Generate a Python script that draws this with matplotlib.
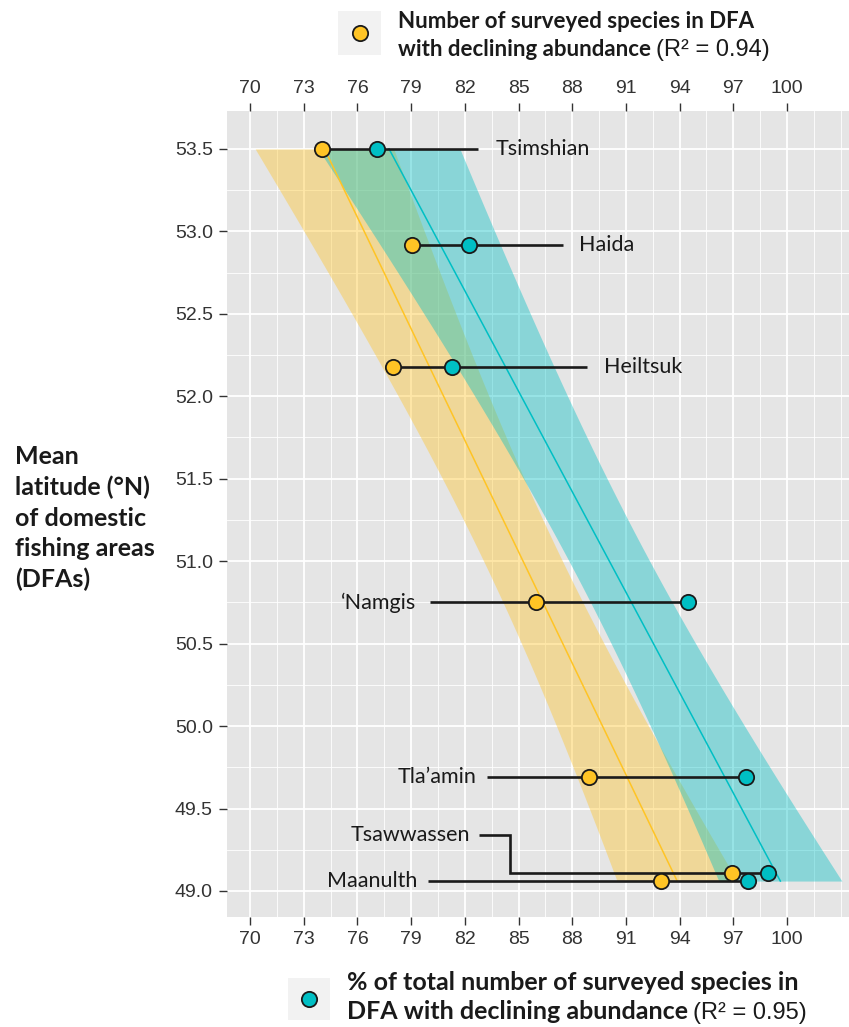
import numpy as np
import matplotlib
matplotlib.use("Agg")
import matplotlib.pyplot as plt
from matplotlib.patches import Rectangle
from matplotlib.lines import Line2D
from matplotlib.ticker import FixedLocator

# ---------------- data ----------------
groups = ["Tsimshian", "Haida", "Heiltsuk", "\u2018Namgis", "Tla\u2019amin", "Tsawwassen", "Maanulth"]
latitude = [53.50, 52.92, 52.18, 50.75, 49.69, 49.11, 49.06]
n_declining = [74.0, 79.03, 78.0, 85.96, 88.96, 96.94, 92.96]
pct_declining = [77.1, 82.25, 81.27, 94.45, 97.7, 98.92, 97.8]
x_ticks = [70, 73, 76, 79, 82, 85, 88, 91, 94, 97, 100]
y_ticks = [49.0, 49.5, 50.0, 50.5, 51.0, 51.5, 52.0, 52.5, 53.0, 53.5]
legend_top = ("Number of surveyed species in DFA", "with declining abundance", "(R\u00b2 = 0.94)")
legend_bottom = ("% of total number of surveyed species in", "DFA with declining abundance", "(R\u00b2 = 0.95)")
y_title = "Mean\nlatitude (\u00b0N)\nof domestic\nfishing areas\n(DFAs)"

# label layout (annotation placement): side, line end/start x, label x
label_layout = {
    "Tsimshian": ("right", 82.75, 83.7),
    "Haida": ("right", 87.5, 88.4),
    "Heiltsuk": ("right", 88.8, 89.8),
    "\u2018Namgis": ("left", 80.06, 79.3),
    "Tla\u2019amin": ("left", 83.24, 82.66),
    "Maanulth": ("left", 79.94, 79.36),
}
tsaw_elbow = (82.8, 84.5, 49.34, 82.3)  # start x, elbow x, label y, label x

YEL = "#FFC425"
TEAL = "#00BFC4"
BG = "#E5E5E5"
INK = "#1a1a1a"
T975_DF5 = 2.5706

LAB_FONT = "Lato"
TICK_FONT = "Liberation Sans"

W, H = 849, 1027
fig = plt.figure(figsize=(W / 100, H / 100), dpi=100)
ax = fig.add_axes([226.7 / W, 1 - 917 / H, (W - 226.7) / W, (917 - 111) / H])
ax.set_facecolor(BG)
ax.set_xlim(68.70, 103.46)
ax.set_ylim(48.842, 53.730)

lat = np.array(latitude)


def fit_band(vals):
    v = np.array(vals)
    b, a = np.polyfit(lat, v, 1)
    yy = np.linspace(lat.min(), lat.max(), 80)
    pred = a + b * yy
    res = v - (a + b * lat)
    s = np.sqrt(np.sum(res ** 2) / (len(v) - 2))
    sxx = np.sum((lat - lat.mean()) ** 2)
    se = s * np.sqrt(1 / len(v) + (yy - lat.mean()) ** 2 / sxx)
    return yy, pred, pred - T975_DF5 * se, pred + T975_DF5 * se


yy1, p1, lo1, hi1 = fit_band(n_declining)
yy2, p2, lo2, hi2 = fit_band(pct_declining)
ax.fill_betweenx(yy1, lo1, hi1, color=YEL, alpha=0.4, lw=0, zorder=2)
ax.fill_betweenx(yy2, lo2, hi2, color=TEAL, alpha=0.4, lw=0, zorder=2)
ax.plot(p1, yy1, color=YEL, lw=1.1, zorder=3)
ax.plot(p2, yy2, color=TEAL, lw=1.1, zorder=3)

# segments + labels
seg_lw = 1.9
lab_fs = 15.5
for g, la, v1, v2 in zip(groups, latitude, n_declining, pct_declining):
    if g in label_layout:
        side, lx, tx = label_layout[g]
        if side == "right":
            ax.plot([v1, lx], [la, la], color=INK, lw=seg_lw, zorder=4, solid_capstyle="butt")
            ax.text(tx, la, g, ha="left", va="center", fontsize=lab_fs, family=LAB_FONT, color=INK, zorder=6)
        else:
            ax.plot([lx, max(v1, v2)], [la, la], color=INK, lw=seg_lw, zorder=4, solid_capstyle="butt")
            ax.text(tx, la, g, ha="right", va="center", fontsize=lab_fs, family=LAB_FONT, color=INK, zorder=6)
    else:
        sx, ex, ly, tx = tsaw_elbow
        ax.plot([sx, ex, ex, max(v1, v2)], [ly, ly, la, la], color=INK, lw=seg_lw, zorder=4,
                solid_capstyle="butt", solid_joinstyle="miter")
        ax.text(tx, ly, g, ha="right", va="center", fontsize=lab_fs, family=LAB_FONT, color=INK, zorder=6)

mk = dict(marker="o", ms=11, mec=INK, mew=1.3, ls="none", zorder=5)
ax.plot(n_declining, latitude, mfc=YEL, **mk)
ax.plot(pct_declining, latitude, mfc=TEAL, **mk)

# axes styling
for sp in ax.spines.values():
    sp.set_visible(False)
ax.set_xticks(x_ticks)
ax.set_yticks(y_ticks)
ax.set_yticklabels([f"{t:.1f}" for t in y_ticks])
ax.xaxis.set_minor_locator(FixedLocator([t + 1.5 for t in x_ticks] + [103]))
ax.yaxis.set_minor_locator(FixedLocator([t + 0.25 for t in y_ticks[:-1]]))
ax.grid(which="major", color="white", lw=1.3)
ax.grid(which="minor", color="white", lw=0.6)
ax.set_axisbelow(True)
ax.xaxis.set_ticks_position("both")
ax.tick_params(axis="x", which="major", top=True, bottom=True, labeltop=True, labelbottom=True)
ax.tick_params(which="major", length=5.5, width=1.0, color="#333333", labelcolor="#333333",
               labelsize=14, pad=4.5)
ax.tick_params(which="minor", length=0)
for t in ax.xaxis.get_major_ticks() + ax.yaxis.get_major_ticks():
    t.label1.set_family(TICK_FONT)
    t.label2.set_family(TICK_FONT)

# y title
fig.text(15 / W, 1 - 518 / H, y_title, ha="left", va="center", fontsize=18, weight="bold",
         family=LAB_FONT, color=INK, linespacing=1.38)

# legends
renderer = fig.canvas.get_renderer()


def legend_block(box, pt, x0, base1, base2, lines, color, fs, rfs):
    bx0, by0, bx1, by1 = box
    fig.patches.append(Rectangle((bx0 / W, 1 - by1 / H), (bx1 - bx0) / W, (by1 - by0) / H,
                                 transform=fig.transFigure, facecolor="#F2F2F2", edgecolor="none"))
    fig.lines.append(Line2D([pt[0] / W], [1 - pt[1] / H], transform=fig.transFigure, marker="o",
                            ms=11, mfc=color, mec=INK, mew=1.3))
    fig.text(x0 / W, 1 - base1 / H, lines[0], ha="left", va="baseline", fontsize=fs, weight="bold",
             family=LAB_FONT, color=INK)
    t2 = fig.text(x0 / W, 1 - base2 / H, lines[1], ha="left", va="baseline", fontsize=fs, weight="bold",
                  family=LAB_FONT, color=INK)
    ext = t2.get_window_extent(renderer)
    fig.text((ext.x1 + 5) / W, 1 - base2 / H, lines[2], ha="left", va="baseline", fontsize=rfs,
             family=TICK_FONT, color=INK)


legend_block((338, 11, 381, 55), (360, 33), 398, 28, 56, legend_top, YEL, 16, 17)
legend_block((288, 978, 330, 1020), (309, 999), 347, 990, 1019, legend_bottom, TEAL, 18, 17)

fig.savefig("out.png", dpi=100)
